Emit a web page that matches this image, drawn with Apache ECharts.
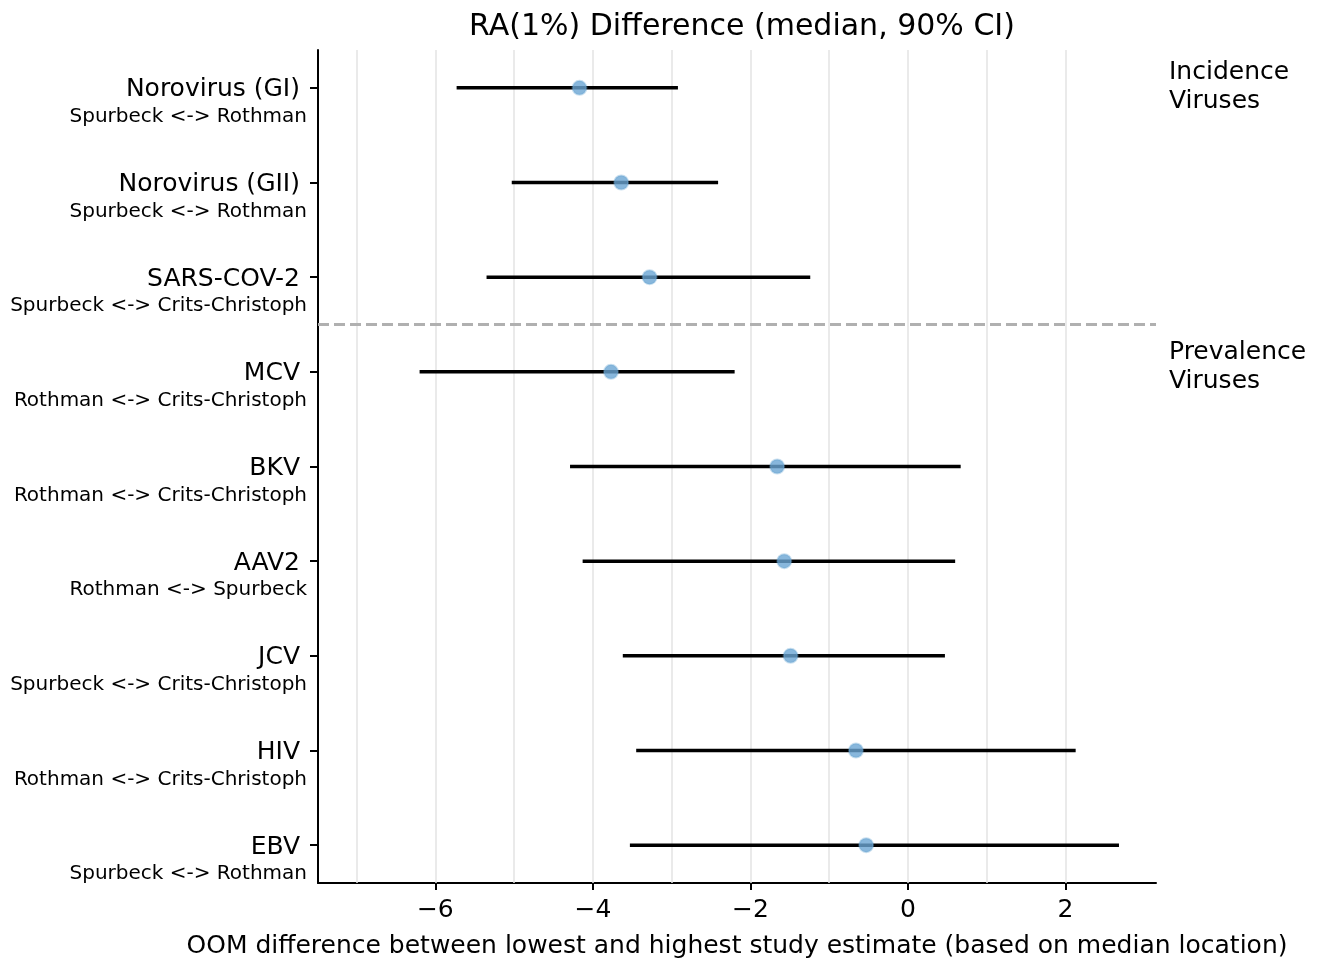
<!DOCTYPE html>
<html>
<head>
<meta charset="utf-8">
<script src="https://cdn.jsdelivr.net/npm/echarts@6/dist/echarts.min.js"></script>
<style>
html,body{margin:0;padding:0;background:#fff;}
#chart{width:1318px;height:962px;}
</style>
</head>
<body>
<div id="chart"></div>
<script>
const virusNames = ['Norovirus (GI)', 'Norovirus (GII)', 'SARS-COV-2', 'MCV', 'BKV', 'AAV2', 'JCV', 'HIV', 'EBV'];
const studyPairs = ['Spurbeck <-> Rothman', 'Spurbeck <-> Rothman', 'Spurbeck <-> Crits-Christoph',
  'Rothman <-> Crits-Christoph', 'Rothman <-> Crits-Christoph', 'Rothman <-> Spurbeck',
  'Spurbeck <-> Crits-Christoph', 'Rothman <-> Crits-Christoph', 'Spurbeck <-> Rothman'];
const lowerCI  = [-5.73, -5.03, -5.35, -6.20, -4.29, -4.13, -3.62, -3.45, -3.53];
const medians  = [-4.17, -3.64, -3.28, -3.77, -1.66, -1.57, -1.49, -0.66, -0.53];
const upperCI  = [-2.92, -2.41, -1.24, -2.20, 0.67, 0.60, 0.47, 2.13, 2.68];
const xTickValues = [-6, -4, -2, 0, 2];
const gridValues = [-7, -6, -5, -4, -3, -2, -1, 0, 1, 2];
const groupSeparator = 2.5;
const titleText = 'RA(1%) Difference (median, 90% CI)';
const xAxisTitle = 'OOM difference between lowest and highest study estimate (based on median location)';

const FONT = 'DejaVu Sans';
const rowIdx = virusNames.map((_, i) => i);

const chart = echarts.init(document.getElementById('chart'), null, {renderer: 'canvas'});
const option = {
  animation: false,
  backgroundColor: '#fff',
  title: {
    text: titleText,
    left: 737, top: 7, textAlign: 'center',
    textStyle: {fontFamily: FONT, fontSize: 30, fontWeight: 'normal', color: '#000'}
  },
  grid: {left: 318, right: 162, top: 50, bottom: 79, containLabel: false, outerBoundsMode: 'none'},
  xAxis: {
    type: 'value', min: -7.49, max: 3.15,
    name: xAxisTitle, nameLocation: 'middle', nameGap: 51,
    nameTextStyle: {fontFamily: FONT, fontSize: 25, color: '#000'},
    axisLine: {show: true, onZero: false, lineStyle: {color: '#000', width: 2}},
    axisTick: {show: true, customValues: xTickValues, length: 7, lineStyle: {color: '#000', width: 2}},
    axisLabel: {customValues: xTickValues, fontFamily: FONT, fontSize: 25, color: '#000', margin: 15,
      formatter: v => (v < 0 ? '\u2212' + Math.abs(v) : String(v))},
    splitLine: {show: false}
  },
  yAxis: {
    type: 'value', inverse: true, min: -0.4, max: 8.4,
    axisLine: {show: true, onZero: false, lineStyle: {color: '#000', width: 2}},
    axisTick: {show: true, customValues: rowIdx, length: 8, lineStyle: {color: '#000', width: 2}},
    axisLabel: {
      customValues: rowIdx, margin: 11, align: 'right',
      formatter: v => '{s| }\n{a|' + virusNames[v] + '}\n{b|' + studyPairs[v] + '}',
      rich: {
        s: {fontSize: 18, lineHeight: 30, fontFamily: FONT},
        a: {fontFamily: FONT, fontSize: 25, lineHeight: 28, color: '#000', padding: [0, 7, 0, 0]},
        b: {fontFamily: FONT, fontSize: 20, lineHeight: 26, color: '#000'}
      }
    },
    splitLine: {show: false}
  },
  graphic: [
    {type: 'text', left: 1169, top: 58, style: {text: 'Incidence\nViruses', fontFamily: FONT, fontSize: 25, lineHeight: 29, fill: '#000'}},
    {type: 'text', left: 1169, top: 338, style: {text: 'Prevalence\nViruses', fontFamily: FONT, fontSize: 25, lineHeight: 29, fill: '#000'}}
  ],
  series: [
    {
      type: 'line', data: [], silent: true,
      markLine: {
        silent: true, symbol: 'none', label: {show: false},
        lineStyle: {color: '#e3e3e3', width: 1.5, type: 'solid'},
        data: gridValues.map(v => ({xAxis: v}))
      }
    },
    {
      type: 'line', data: [], silent: true, z: 5,
      markLine: {
        silent: true, symbol: 'none', label: {show: false},
        lineStyle: {color: '#b0b0b0', width: 3, type: [11, 5]},
        data: [{yAxis: groupSeparator}]
      }
    },
    {
      type: 'custom', z: 6,
      data: rowIdx.map(i => [lowerCI[i], upperCI[i], i]),
      renderItem: function (params, api) {
        const p1 = api.coord([api.value(0), api.value(2)]);
        const p2 = api.coord([api.value(1), api.value(2)]);
        return {type: 'line', shape: {x1: p1[0], y1: p1[1], x2: p2[0], y2: p2[1]},
          style: {stroke: '#000', lineWidth: 3.5}};
      }
    },
    {
      type: 'scatter', z: 7,
      data: rowIdx.map(i => [medians[i], i]),
      symbol: 'circle', symbolSize: 14,
      itemStyle: {color: '#6aa5d3', borderColor: 'rgba(106,165,211,0.45)', borderWidth: 2}
    }
  ]
};
chart.setOption(option);
</script>
</body>
</html>
